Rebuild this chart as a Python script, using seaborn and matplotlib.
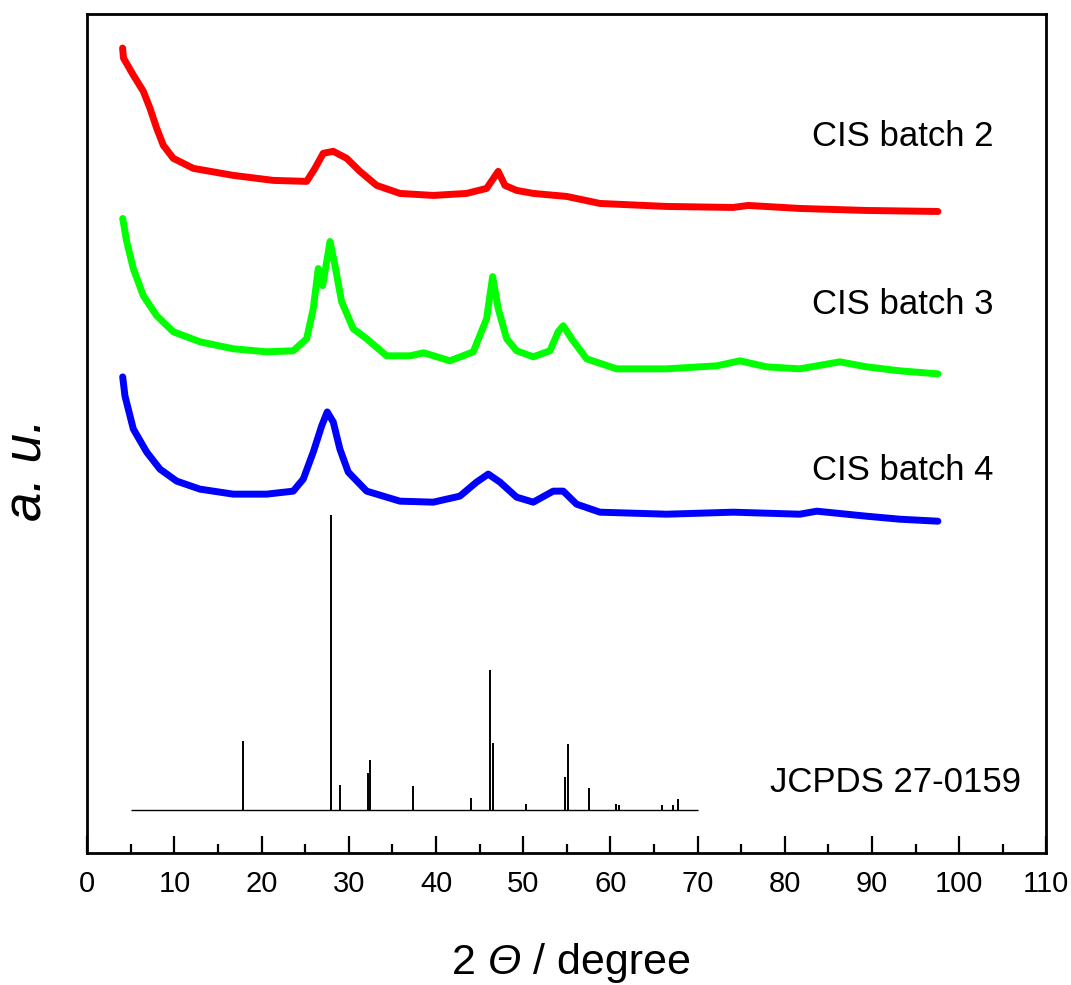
import numpy as np
import pandas as pd
import matplotlib
matplotlib.use('Agg')
import matplotlib.pyplot as plt
import seaborn as sns

# --- data (2 theta in degree, intensity in a.u.) ---
batch2_x = [4.05, 4.15, 5.28, 6.42, 7.19, 7.96, 8.72, 9.86, 12.16, 16.74, 21.33, 25.16,
            26.11, 27.06, 28.21, 29.75, 31.27, 33.19, 35.86, 39.68, 43.51, 45.80, 47.13,
            47.90, 49.24, 51.15, 54.98, 58.80, 66.44, 74.08, 75.80, 81.72, 89.38, 97.56]
batch2_y = [803, 793, 776, 760, 743, 723, 706, 693, 683, 676, 671, 670,
            683, 698, 700, 693, 680, 666, 658, 656, 658, 663, 680,
            666, 661, 658, 655, 648, 645, 644, 646, 643, 641, 640]

batch3_x = [4.06, 4.52, 5.28, 6.42, 7.96, 9.86, 12.92, 16.74, 20.57, 23.62, 25.16, 25.92,
            26.49, 27.00, 27.84, 28.41, 29.17, 30.50, 32.04, 34.33, 37.00, 38.60, 41.59,
            44.27, 45.80, 46.49, 47.13, 48.10, 49.24, 51.15, 53.06, 54.01, 54.59, 55.55,
            57.27, 60.71, 66.44, 72.18, 74.85, 77.91, 81.72, 86.31, 89.38, 93.20, 97.56]
batch3_y = [633, 610, 583, 556, 536, 520, 510, 503, 500, 501, 513, 543,
            583, 566, 610, 586, 550, 523, 513, 496, 496, 499, 491,
            500, 533, 575, 543, 513, 501, 495, 501, 520, 526, 513,
            493, 483, 483, 486, 491, 485, 483, 490, 485, 481, 478]

batch4_x = [4.06, 4.32, 5.28, 6.81, 8.33, 10.25, 12.92, 16.74, 20.57, 23.62, 24.77, 25.92,
            26.88, 27.52, 28.21, 28.97, 29.93, 32.04, 35.86, 39.68, 42.73, 44.65, 45.99,
            47.33, 49.24, 51.15, 53.44, 54.59, 56.12, 58.80, 66.44, 74.08, 81.72, 83.67,
            89.38, 93.20, 97.56]
batch4_y = [475, 456, 423, 400, 383, 371, 363, 358, 358, 361, 373, 400,
            426, 440, 430, 403, 380, 361, 351, 350, 356, 370, 378,
            370, 355, 350, 361, 361, 348, 340, 338, 340, 338, 341,
            336, 333, 331]

# JCPDS 27-0159 reference pattern
ref_base = 43
ref_start, ref_end = 5, 70
ref_pos = [17.9, 27.9, 29.0, 32.2, 32.4, 37.3, 44.0, 46.2, 46.5, 50.3,
           54.8, 55.1, 57.6, 60.6, 61.0, 65.9, 67.2, 67.7]
ref_height = [69, 294, 25, 37, 50, 24, 12, 140, 67, 6,
              33, 66, 22, 6, 5, 5, 5, 11]

labels = ['CIS batch 2', 'CIS batch 3', 'CIS batch 4', 'JCPDS 27-0159']
label_y = [715, 547, 382, 70]
colors = ['#ff0000', '#00ff00', '#0000ff']

sns.set_style('ticks')
plt.rcParams['font.family'] = ['Liberation Sans', 'DejaVu Sans']
plt.rcParams.update({'text.color': 'black', 'axes.labelcolor': 'black',
                     'xtick.color': 'black', 'ytick.color': 'black'})

fig = plt.figure(figsize=(10.71, 9.85), dpi=100)
ax = fig.add_axes([0.0815, 0.134, 0.8955, 0.8518])

series = [(batch2_x, batch2_y), (batch3_x, batch3_y), (batch4_x, batch4_y)]
for (xs, ys), c in zip(series, colors):
    df = pd.DataFrame({'x': xs, 'y': ys})
    sns.lineplot(data=df, x='x', y='y', color=c, linewidth=5.0, estimator=None,
                 ax=ax, legend=False)

# reference stick pattern
ax.hlines(ref_base, ref_start, ref_end, color='black', linewidth=1.0)
ax.vlines(ref_pos, ref_base, [ref_base + h for h in ref_height],
          color='black', linewidth=1.4)

for txt, yy in zip(labels[:3], label_y[:3]):
    ax.text(83.1, yy, txt, ha='left', va='center', fontsize=25)
ax.text(78.3, label_y[3], labels[3], ha='left', va='center', fontsize=25)

ax.set_xlim(0, 110)
ax.set_ylim(0, 837)
ax.set_xticks(np.arange(0, 111, 10))
ax.set_xticks(np.arange(5, 110, 10), minor=True)
ax.set_yticks([])
ax.tick_params(axis='x', which='major', direction='in', length=12, width=1.6,
               labelsize=21, pad=12)
ax.tick_params(axis='x', which='minor', direction='in', length=6.5, width=1.6)
for s in ax.spines.values():
    s.set_linewidth(2.0)
    s.set_color('black')
ax.set_xlabel('')
ax.set_ylabel('')

# x label in three pieces so that the theta can be italic
t1 = fig.text(452 / 1071, 2 / 985, '2 ', fontsize=31, ha='left', va='bottom')
t2 = ax.annotate('Θ', xy=(1, 0), xycoords=t1, ha='left', va='bottom',
                 fontsize=31, style='italic', annotation_clip=False)
ax.annotate(' / degree', xy=(1, 0), xycoords=t2, ha='left', va='bottom',
            fontsize=31, annotation_clip=False)

fig.text(28 / 1071, 1 - 470 / 985, 'a. u.', rotation=90, ha='center', va='center',
         fontsize=38, style='italic')

fig.savefig('out.png', dpi=100)
